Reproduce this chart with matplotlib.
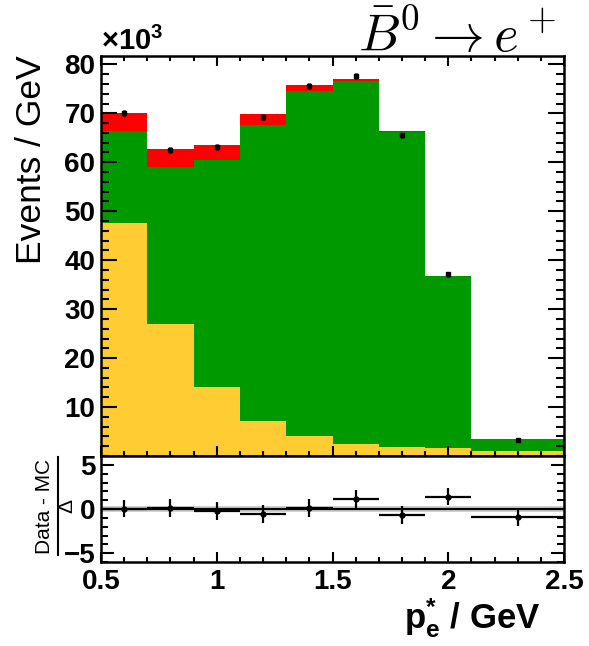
import numpy as np
import matplotlib
matplotlib.use("Agg")
import matplotlib.pyplot as plt
from matplotlib.ticker import MultipleLocator
from matplotlib.lines import Line2D

plt.rcParams['font.family'] = ['Liberation Sans', 'DejaVu Sans']
plt.rcParams['mathtext.fontset'] = 'custom'
plt.rcParams['mathtext.rm'] = 'Liberation Sans'
plt.rcParams['mathtext.bf'] = 'Liberation Sans:bold'
plt.rcParams['mathtext.it'] = 'Liberation Sans:italic'

# p*_e binning (GeV) and stacked MC components (10^3 events / GeV)
edges = [0.5, 0.7, 0.9, 1.1, 1.3, 1.5, 1.7, 1.9, 2.1, 2.5]
mc_yellow = [47.5, 26.9, 14.1, 7.2, 4.1, 2.4, 1.9, 1.6, 1.0]
mc_green = [18.8, 32.1, 46.3, 60.4, 70.5, 74.2, 64.2, 35.1, 2.5]
mc_red = [3.8, 3.7, 3.1, 2.2, 1.2, 0.5, 0.2, 0.1, 0.0]

# data points
data = [70.0, 62.5, 63.1, 69.2, 75.6, 77.6, 65.5, 37.1, 3.3]
data_err = [0.6, 0.55, 0.55, 0.6, 0.6, 0.6, 0.55, 0.45, 0.1]

# normalised residuals (Data - MC) / Delta
pulls = [0.05, 0.1, -0.25, -0.6, 0.15, 1.1, -0.65, 1.4, -0.9]
pull_err = [1.0] * 9

YELLOW = '#ffcc33'
GREEN = '#009900'
RED = '#ff0000'

edges = np.array(edges)
centers = 0.5 * (edges[:-1] + edges[1:])
halfw = 0.5 * np.diff(edges)
stack = np.cumsum([mc_yellow, mc_green, mc_red], axis=0)

fig = plt.figure(figsize=(5.89, 6.46), dpi=100)
L, W = 0.1715, 0.7861
ax = fig.add_axes([L, 0.2941, W, 0.6199])
axp = fig.add_axes([L, 0.130, W, 0.1641], sharex=ax)

# stacked histogram drawn back to front
for top, col in zip(stack[::-1], [RED, GREEN, YELLOW]):
    ax.stairs(top, edges, baseline=0, fill=True, color=col, lw=0)

ax.errorbar(centers, data, yerr=data_err, fmt='s', color='k', ms=3.5,
            elinewidth=2.4, capsize=0)

ax.set_xlim(0.5, 2.5)
ax.set_ylim(0, 81.8)
ax.xaxis.set_major_locator(MultipleLocator(0.5))
ax.xaxis.set_minor_locator(MultipleLocator(0.1))
ax.yaxis.set_minor_locator(MultipleLocator(2))
ax.set_yticks([10, 20, 30, 40, 50, 60, 70, 80])
ax.tick_params(which='both', direction='in', top=True, right=True,
               labelbottom=False, width=1.5)
ax.tick_params(axis='y', which='major', length=11.5, labelsize=20, pad=4)
ax.tick_params(axis='y', which='minor', length=5.8)
ax.tick_params(axis='x', which='major', length=7.2)
ax.tick_params(axis='x', which='minor', length=3.6)
for lab in ax.get_yticklabels():
    lab.set_fontweight('bold')

# residual panel
axp.axhspan(-0.37, 0.37, color='#d0d0d0', lw=0)
axp.axhline(0, color='k', lw=1.6)
axp.errorbar(centers, pulls, xerr=halfw, yerr=pull_err, fmt='o', color='k',
             ms=3.5, elinewidth=1.6, capsize=0)
axp.set_ylim(-6, 6)
axp.set_yticks([-5, 0, 5])
axp.set_yticklabels(['\u22125', '0', '5'])
axp.yaxis.set_minor_locator(MultipleLocator(1))
axp.set_xticks([0.5, 1, 1.5, 2, 2.5])
axp.set_xticklabels(['0.5', '1', '1.5', '2', '2.5'])
axp.tick_params(which='both', direction='in', top=False, right=True, width=1.5)
axp.tick_params(axis='y', which='major', length=9.4, labelsize=20, pad=4)
axp.tick_params(axis='y', which='minor', length=5)
axp.tick_params(axis='x', which='major', length=7.2, labelsize=20, pad=5)
axp.tick_params(axis='x', which='minor', length=3.6)
for lab in axp.get_yticklabels() + axp.get_xticklabels():
    lab.set_fontweight('bold')

for a in (ax, axp):
    for sp in a.spines.values():
        sp.set_linewidth(1.8)

# axis titles
fig.text(32 / 589, 1 - 55 / 646, 'Events / GeV', rotation=90, fontsize=25.5,
         ha='center', va='top')
fig.text(540 / 589, 1 - 628 / 646, r'p$^{\mathbf{*}}_{\mathbf{e}}$ / GeV',
         fontsize=25, fontweight='bold', ha='right', va='baseline')

# (Data - MC) / Delta as a rotated fraction
ymid = 1 - 506 / 646
fig.text(45 / 589, ymid, 'Data - MC', rotation=90, fontsize=15,
         ha='center', va='center')
fig.add_artist(Line2D([57.5 / 589, 57.5 / 589], [1 - 457 / 646, 1 - 555 / 646],
                      color='k', lw=1.5, transform=fig.transFigure))
fig.text(67 / 589, ymid, '\u0394', rotation=90, fontsize=15,
         ha='center', va='center')

# exponent and decay label above the frame
fig.text(101 / 589, 1 - 50 / 646, '\u00d710$^{\\mathbf{3}}$', fontsize=21,
         fontweight='bold', ha='left', va='baseline')
fig.text(557 / 589, 1 - 51 / 646, r'$\bar{B}^0 \to e^+$', fontsize=38,
         math_fontfamily='cm', ha='right', va='baseline')

fig.savefig('out.png', dpi=100)
